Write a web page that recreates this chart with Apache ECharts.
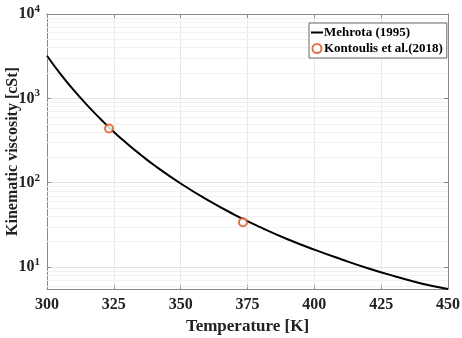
<!DOCTYPE html>
<html><head><meta charset="utf-8">
<script src="https://cdn.jsdelivr.net/npm/echarts@6/dist/echarts.min.js"></script>
<style>html,body{margin:0;padding:0;background:#fff}#c{width:462px;height:338px}</style>
</head><body><div id="c"></div>
<script>
var temps = [300,305,310,315,320,325,330,335,340,350,360,370,380,390,400,410,420,430,440,450];
var mehrotra = [3200,1950,1250,830,570,400,290,215,162,98,62.5,42,29.5,21.4,16.1,12.4,9.7,7.8,6.4,5.5];
var expT = [323.2,373.3];
var expV = [440,34];
var xTicks = [300,325,350,375,400,425,450];
var minorY = [6,7,8,9,20,30,40,50,60,70,80,90,200,300,400,500,600,700,800,900,2000,3000,4000,5000,6000,7000,8000,9000];
var yMin = 5.5, yMax = 10000;

var font = '"Liberation Serif","Times New Roman",serif';
var chart = echarts.init(document.getElementById('c'));
function yFmt(v){
  var l = Math.log10(v);
  if (Math.abs(l - Math.round(l)) < 1e-6) return '{b|10}{s|' + Math.round(l) + '}';
  return '';
}
chart.setOption({
  animation:false,
  backgroundColor:'#fff',
  grid:{left:47,right:14,top:14,bottom:49,show:false,containLabel:false,outerBoundsMode:'none'},
  legend:{
    orient:'vertical', left:309, top:23,
    padding:[3,4,3,2], itemGap:3, itemWidth:12, itemHeight:9,
    borderColor:'#666', borderWidth:1, backgroundColor:'#fff',
    textStyle:{fontFamily:font,fontWeight:'bold',fontSize:13,color:'#000',padding:[0,0,0,-4]},
    data:[
      {name:'Mehrota (1995)', icon:'path://M0,0 L12,0 L12,2 L0,2 Z', itemStyle:{color:'#000'}},
      {name:'Kontoulis et al.(2018)', icon:'emptyCircle'}
    ]
  },
  xAxis:[{
    type:'value', min:300, max:450, interval:25, position:'bottom',
    axisLine:{show:true,onZero:false,lineStyle:{color:'#888',width:1}},
    axisTick:{show:true,inside:true,length:4,lineStyle:{color:'#888'}},
    axisLabel:{fontFamily:font,fontWeight:'bold',fontSize:16,color:'#222',margin:8,
      formatter:function(v){return xTicks.indexOf(v)>=0?String(v):'';}},
    splitLine:{show:true,lineStyle:{color:'#e8e8e8',width:1}},
    name:'Temperature [K]', nameLocation:'middle', nameGap:29, nameMoveOverlap:false,
    nameTextStyle:{fontFamily:font,fontWeight:'bold',fontSize:17,color:'#222'}
  },{
    type:'value', min:300, max:450, interval:25, position:'top',
    axisLine:{show:true,onZero:false,lineStyle:{color:'#888',width:1}},
    axisTick:{show:true,inside:true,length:4,lineStyle:{color:'#888'}},
    axisLabel:{show:false}, splitLine:{show:false}
  }],
  yAxis:[{
    type:'log', logBase:10, min:yMin, max:yMax, position:'left',
    axisLine:{show:true,onZero:false,lineStyle:{color:'#888',width:1}},
    axisTick:{show:true,inside:true,length:4,lineStyle:{color:'#888'}},
    axisLabel:{margin:7,formatter:yFmt,showMinLabel:false,
      rich:{b:{fontFamily:font,fontWeight:'bold',fontSize:16,color:'#222'},
            s:{fontFamily:font,fontWeight:'bold',fontSize:11,color:'#222',padding:[0,0,10,0]}}},
    splitLine:{show:true,lineStyle:{color:'#e3e3e3',width:1}},
    name:'Kinematic viscosity [cSt]', nameLocation:'middle', nameGap:26, nameMoveOverlap:false,
    nameTextStyle:{fontFamily:font,fontWeight:'bold',fontSize:16,color:'#222'}
  },{
    type:'log', logBase:10, min:yMin, max:yMax, position:'right',
    axisLine:{show:true,onZero:false,lineStyle:{color:'#888',width:1}},
    axisTick:{show:true,inside:true,length:4,lineStyle:{color:'#888'}},
    axisLabel:{show:false}, splitLine:{show:false}
  }],
  series:[{
    name:'minor', type:'line', data:[], silent:true, z:1,
    markLine:{silent:true, symbol:['none','none'], label:{show:false}, z:1,
      lineStyle:{color:'#f1f1f1',width:1,type:'solid'},
      data:minorY.map(function(v){return {yAxis:v};})}
  },{
    name:'Mehrota (1995)', type:'line', smooth:true, showSymbol:false, z:5,
    lineStyle:{color:'#000',width:2},
    itemStyle:{color:'#000'},
    data:temps.map(function(t,i){return [t,mehrotra[i]];})
  },{
    name:'Kontoulis et al.(2018)', type:'scatter', symbol:'emptyCircle', symbolSize:8, z:6,
    itemStyle:{color:'#D95319',borderColor:'#D95319',borderWidth:1.8},
    data:expT.map(function(t,i){return [t,expV[i]];})
  }]
});
</script></body></html>
